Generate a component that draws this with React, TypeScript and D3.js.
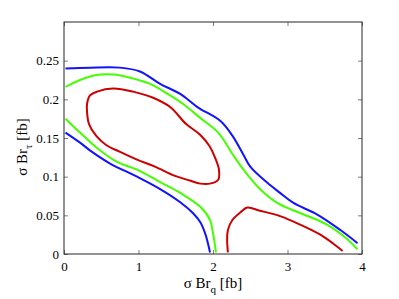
import React, { Component } from 'react';
import * as d3 from 'd3';

const margin = { top: 22, right: 37, bottom: 45, left: 64 };
const W = 399;
const H = 299;
const width = W - margin.left - margin.right;
const height = H - margin.top - margin.bottom;

// contour lines, [sigma Br_q, sigma Br_tau]
const blueUpper = [
  [0.02, 0.240], [0.35, 0.241], [0.75, 0.241], [1.02, 0.236], [1.29, 0.220],
  [1.56, 0.207], [1.79, 0.190], [2.10, 0.172], [2.26, 0.153], [2.41, 0.128],
  [2.50, 0.113], [2.73, 0.092], [2.90, 0.079], [3.08, 0.066], [3.40, 0.051],
  [3.71, 0.031], [3.94, 0.014],
];
const blueLower = [
  [0.02, 0.157], [0.215, 0.144], [0.376, 0.132], [0.618, 0.117], [0.98, 0.100],
  [1.29, 0.084], [1.56, 0.067], [1.73, 0.053], [1.83, 0.041], [1.90, 0.025],
  [1.96, 0.002],
];
const greenUpper = [
  [0.02, 0.216], [0.215, 0.225], [0.417, 0.231], [0.66, 0.232], [0.887, 0.228],
  [1.156, 0.220], [1.425, 0.205], [1.626, 0.192], [1.828, 0.176], [2.07, 0.157],
  [2.27, 0.128], [2.41, 0.109], [2.63, 0.084], [2.88, 0.065], [3.17, 0.053],
  [3.53, 0.038], [3.78, 0.021], [3.94, 0.006],
];
const greenLower = [
  [0.02, 0.175], [0.215, 0.157], [0.444, 0.137], [0.712, 0.119], [0.98, 0.109],
  [1.29, 0.093], [1.56, 0.079], [1.83, 0.061], [1.96, 0.044], [2.00, 0.027],
  [2.04, 0.002],
];
const redLoop = [
  [0.309, 0.194], [0.349, 0.205], [0.444, 0.210], [0.659, 0.214], [0.927, 0.210],
  [1.196, 0.202], [1.425, 0.190], [1.64, 0.168], [1.83, 0.154], [1.95, 0.140],
  [2.03, 0.124], [2.08, 0.109], [2.07, 0.096], [1.96, 0.091], [1.83, 0.091],
  [1.69, 0.095], [1.49, 0.101], [1.22, 0.113], [0.98, 0.122], [0.753, 0.132],
  [0.565, 0.141], [0.43, 0.153], [0.336, 0.168], [0.309, 0.184],
];
const redLower = [
  [2.20, 0.002], [2.19, 0.018], [2.20, 0.031], [2.26, 0.044], [2.37, 0.054],
  [2.46, 0.060], [2.63, 0.056], [2.90, 0.049], [3.17, 0.038], [3.44, 0.025],
  [3.62, 0.013], [3.74, 0.004],
];

const xTicks = [0, 1, 2, 3, 4];
const yTicks = [0, 0.05, 0.1, 0.15, 0.2, 0.25];

const BLUE = '#1212ff';
const GREEN = '#44ff00';
const RED = '#cc0000';

const FONT = 'Liberation Serif, Times New Roman, DejaVu Serif, serif';

class App extends Component {
  container = React.createRef<SVGSVGElement>();

  componentDidMount() {
    const svg = d3.select(this.container.current);
    svg.selectAll('*').remove();

    const x = d3.scaleLinear().domain([0, 4]).range([0, width]);
    const y = d3.scaleLinear().domain([0, 0.3]).range([height, 0]);

    const g = svg.append('g')
      .attr('transform', `translate(${margin.left},${margin.top})`);

    const line = d3.line<number[]>().x(d => x(d[0])).y(d => y(d[1])).curve(d3.curveCatmullRom);
    const loop = d3.line<number[]>().x(d => x(d[0])).y(d => y(d[1])).curve(d3.curveCatmullRomClosed);

    const lines = [
      { d: blueUpper, c: BLUE }, { d: blueLower, c: BLUE },
      { d: greenUpper, c: GREEN }, { d: greenLower, c: GREEN },
      { d: redLower, c: RED },
    ];
    g.selectAll('path.contour')
      .data(lines)
      .enter()
      .append('path')
      .attr('class', 'contour')
      .attr('d', d => line(d.d))
      .attr('fill', 'none')
      .attr('stroke', d => d.c)
      .attr('stroke-width', 2);

    g.append('path')
      .attr('d', loop(redLoop))
      .attr('fill', 'none')
      .attr('stroke', RED)
      .attr('stroke-width', 2);

    const axisCol = '#262626';

    const styleAxis = (sel, labels) => {
      sel.attr('font-family', FONT).attr('font-size', 13);
      sel.select('.domain').remove();
      sel.selectAll('line').attr('stroke', axisCol).attr('stroke-width', 0.6);
      sel.selectAll('text').attr('fill', '#000');
      if (!labels) sel.selectAll('text').remove();
    };

    g.append('g')
      .attr('transform', `translate(0,${height})`)
      .call(d3.axisBottom(x).tickValues(xTicks).tickSizeInner(-4).tickSizeOuter(0).tickPadding(8).tickFormat(d3.format('d')))
      .call(s => styleAxis(s, true));

    g.append('g')
      .call(d3.axisTop(x).tickValues(xTicks).tickSizeInner(-4).tickSizeOuter(0))
      .call(s => styleAxis(s, false));

    g.append('g')
      .call(d3.axisLeft(y).tickValues(yTicks).tickSizeInner(-4).tickSizeOuter(0).tickPadding(5).tickFormat(d => String(+d)))
      .call(s => styleAxis(s, true));

    g.append('g')
      .attr('transform', `translate(${width},0)`)
      .call(d3.axisRight(y).tickValues(yTicks).tickSizeInner(-4).tickSizeOuter(0))
      .call(s => styleAxis(s, false));

    g.append('rect')
      .attr('width', width)
      .attr('height', height)
      .attr('fill', 'none')
      .attr('stroke', axisCol)
      .attr('stroke-width', 1);

    // axis titles
    const xl = svg.append('text')
      .attr('x', margin.left + width / 2)
      .attr('y', 288)
      .attr('text-anchor', 'middle')
      .attr('font-family', FONT)
      .attr('font-size', 15);
    xl.append('tspan').text('σ Br');
    xl.append('tspan').attr('dy', 5).attr('font-size', 11).text('q');
    xl.append('tspan').attr('dy', -5).text(' [fb]');

    const yl = svg.append('text')
      .attr('transform', `translate(27,147) rotate(-90)`)
      .attr('text-anchor', 'middle')
      .attr('font-family', FONT)
      .attr('font-size', 15);
    yl.append('tspan').text('σ Br');
    yl.append('tspan').attr('dy', 5).attr('font-size', 11).text('τ');
    yl.append('tspan').attr('dy', -5).text(' [fb]');
  }

  render() {
    return (
      <svg
        ref={this.container}
        width={W}
        height={H}
        style={{ position: 'absolute', left: 0, top: 0, background: '#fff' }}
      />
    );
  }
}

export default App;
